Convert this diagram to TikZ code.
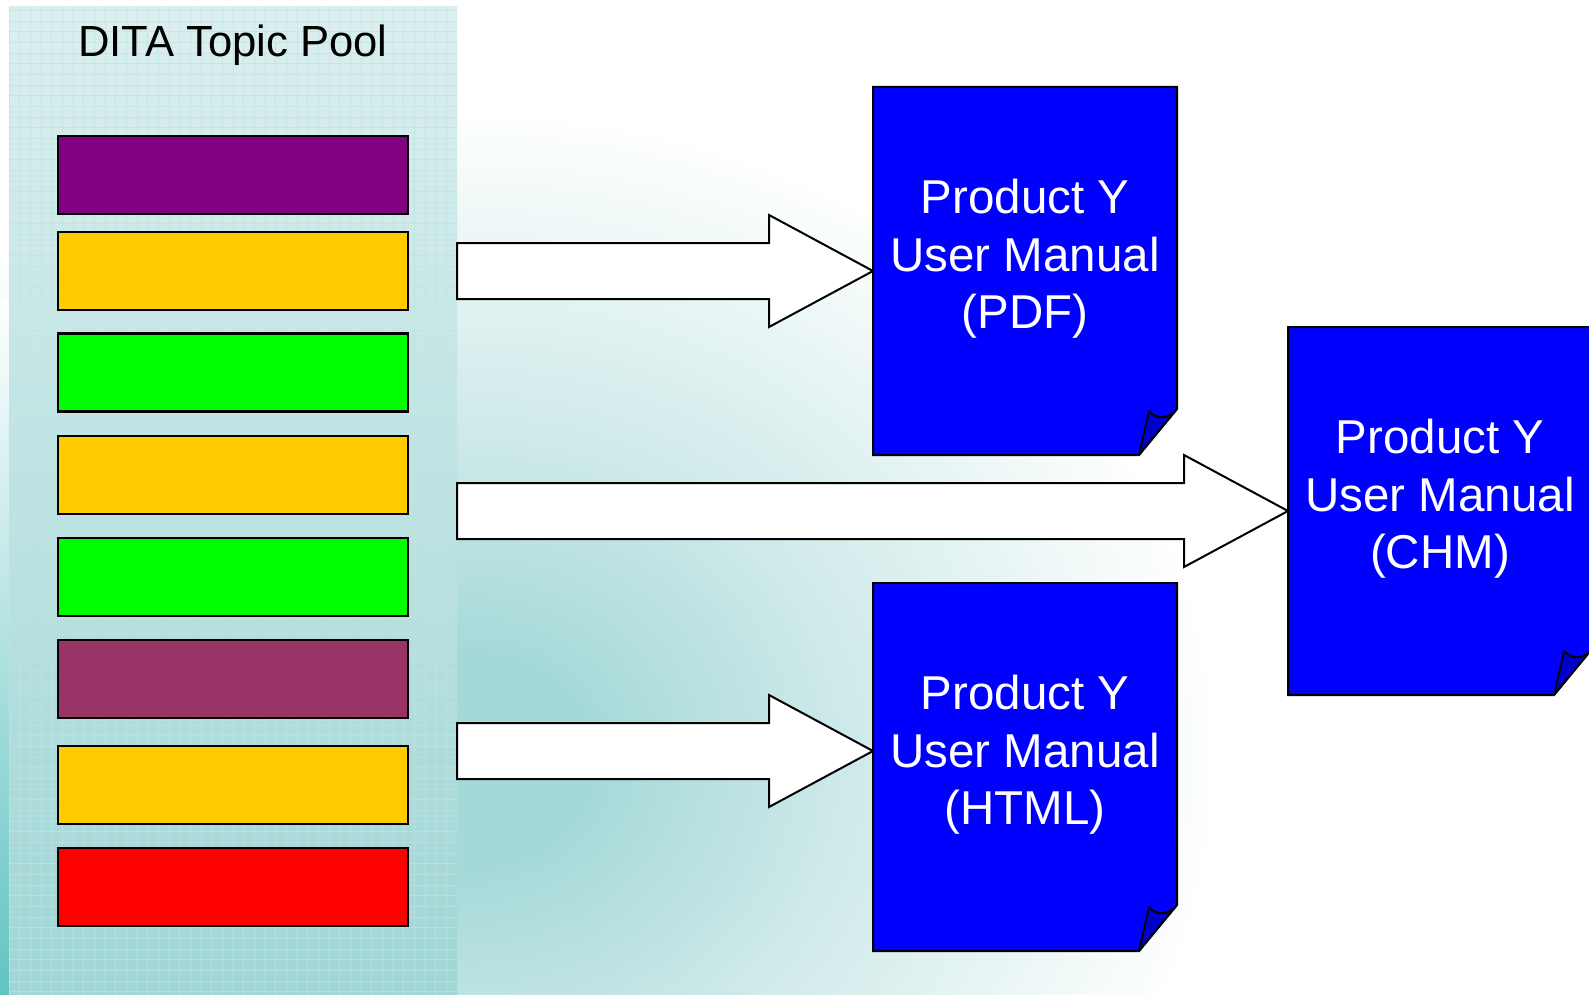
\documentclass[tikz,border=0pt]{standalone}
\usepackage{fontspec}
\setmainfont{Liberation Sans}
\usetikzlibrary{calc}
\definecolor{topicpurple}{HTML}{800080}
\definecolor{topicyellow}{HTML}{FFCC00}
\definecolor{topicgreen}{HTML}{00FF00}
\definecolor{topicmaroon}{HTML}{993366}
\definecolor{topicred}{HTML}{FF0000}
\definecolor{docblue}{HTML}{0000FF}
\definecolor{foldblue}{HTML}{0000C8}
\definecolor{bgA}{HTML}{A4D9D8}
\definecolor{bgB}{HTML}{CCE8E8}
\definecolor{panelTop}{HTML}{DBEFEF}
\definecolor{panelBot}{HTML}{A0D6D5}
\definecolor{gridTeal}{HTML}{BFE3E3}
\definecolor{stripTeal}{HTML}{62C4C2}
\pgfdeclareradialshading{bgglow}{\pgfpoint{0bp}{0bp}}{color(0bp)=(bgA); color(4bp)=(bgA); color(12bp)=(bgB); color(25bp)=(white); color(50bp)=(white)}
\tikzset{
  poolpanel/.style={rectangle, draw=none, inner sep=0pt, outer sep=0pt,
    minimum width=224pt, minimum height=494pt,
    top color=panelTop, bottom color=panelBot,
    path picture={\draw[gridTeal, line width=0.4pt, opacity=0.7, step=5.333pt]
      (path picture bounding box.south west) grid (path picture bounding box.north east);}},
  pooltitle/.style={inner sep=0pt, text=black, font=\fontsize{21.8}{26}\selectfont},
  topicbox/.style={rectangle, draw=black, line width=1.4pt, inner sep=0pt,
    minimum width=175pt, minimum height=39pt},
  docframe/.style={rectangle, draw=none, inner sep=0pt, outer sep=0pt,
    minimum width=152pt, minimum height=184pt},
  docbody/.style={fill=docblue, draw=black, line width=1pt, line join=miter},
  docfold/.style={fill=foldblue, draw=black, line width=0.9pt, line join=round},
  doctext/.style={inner sep=0pt, align=center, text=white,
    font=\fontsize{23.75}{28.75}\selectfont},
  blockarrow/.style={fill=white, draw=black, line width=1pt, line join=miter}
}
\newcommand\DocSheet[1]{%
  \draw[docbody] (#1.north west) -- (#1.north east) -- ([yshift=23pt]#1.south east)
    -- ([xshift=-19pt]#1.south east) -- (#1.south west) -- cycle;
  \draw[docfold] ([xshift=-19pt]#1.south east) -- ([xshift=-14pt,yshift=22pt]#1.south east)
    .. controls ([xshift=-10pt,yshift=17.5pt]#1.south east) and ([xshift=-4pt,yshift=18pt]#1.south east)
    .. ([yshift=23pt]#1.south east) -- cycle;}
\newcommand\BlockArrow[2]{%
  \draw[blockarrow] let \p1=(#1), \p2=(#2) in
    (\x1,\y2+14pt) -- (\x2-52pt,\y2+14pt) -- (\x2-52pt,\y2+28pt) -- (\x2,\y2)
    -- (\x2-52pt,\y2-28pt) -- (\x2-52pt,\y2-14pt) -- (\x1,\y2-14pt) -- cycle;}
\begin{document}
\begin{tikzpicture}[x=0.5pt,y=-0.5pt]
\useasboundingbox (0,0) rectangle (1589,995);
% background
\fill[white] (0,0) rectangle (1589,995);
\begin{scope}
  \clip (0,0) rectangle (1589,995);
  \shade[shading=bgglow] (470,760) ellipse [x radius=750, y radius=650];
\end{scope}
\shade[top color=white, bottom color=stripTeal] (0,300) rectangle (9,995);
% topic pool
\node[poolpanel] (pool) at (233,501) {};
\node[pooltitle, anchor=base] (title) at ($(pool.north)+(0,50)$) {DITA Topic Pool};
\node[topicbox, fill=topicpurple] (t1) at (233,175) {};
\node[topicbox, fill=topicyellow] (t2) at (233,271) {};
\node[topicbox, fill=topicgreen]  (t3) at (233,372.5) {};
\node[topicbox, fill=topicyellow] (t4) at (233,475) {};
\node[topicbox, fill=topicgreen]  (t5) at (233,577) {};
\node[topicbox, fill=topicmaroon] (t6) at (233,679) {};
\node[topicbox, fill=topicyellow] (t7) at (233,785) {};
\node[topicbox, fill=topicred]    (t8) at (233,887) {};
% documents (frames)
\node[docframe] (pdf) at (1025,271) {};
\node[docframe] (chm) at (1440,511) {};
\node[docframe] (html) at (1025,767) {};
\coordinate (htmltip) at ([yshift=8pt]html.west);
% arrows
\BlockArrow{pool.east}{pdf.west}
\BlockArrow{pool.east}{chm.west}
\BlockArrow{pool.east}{htmltip}
% document sheets
\DocSheet{pdf}
\DocSheet{chm}
\DocSheet{html}
\node[doctext] (pdftext) at ([yshift=6pt]pdf.center) {Product Y\\User Manual\\(PDF)};
\node[doctext] (chmtext) at ([yshift=6pt]chm.center) {Product Y\\User Manual\\(CHM)};
\node[doctext] (htmltext) at ([yshift=6pt]html.center) {Product Y\\User Manual\\(HTML)};
\end{tikzpicture}
\end{document}
